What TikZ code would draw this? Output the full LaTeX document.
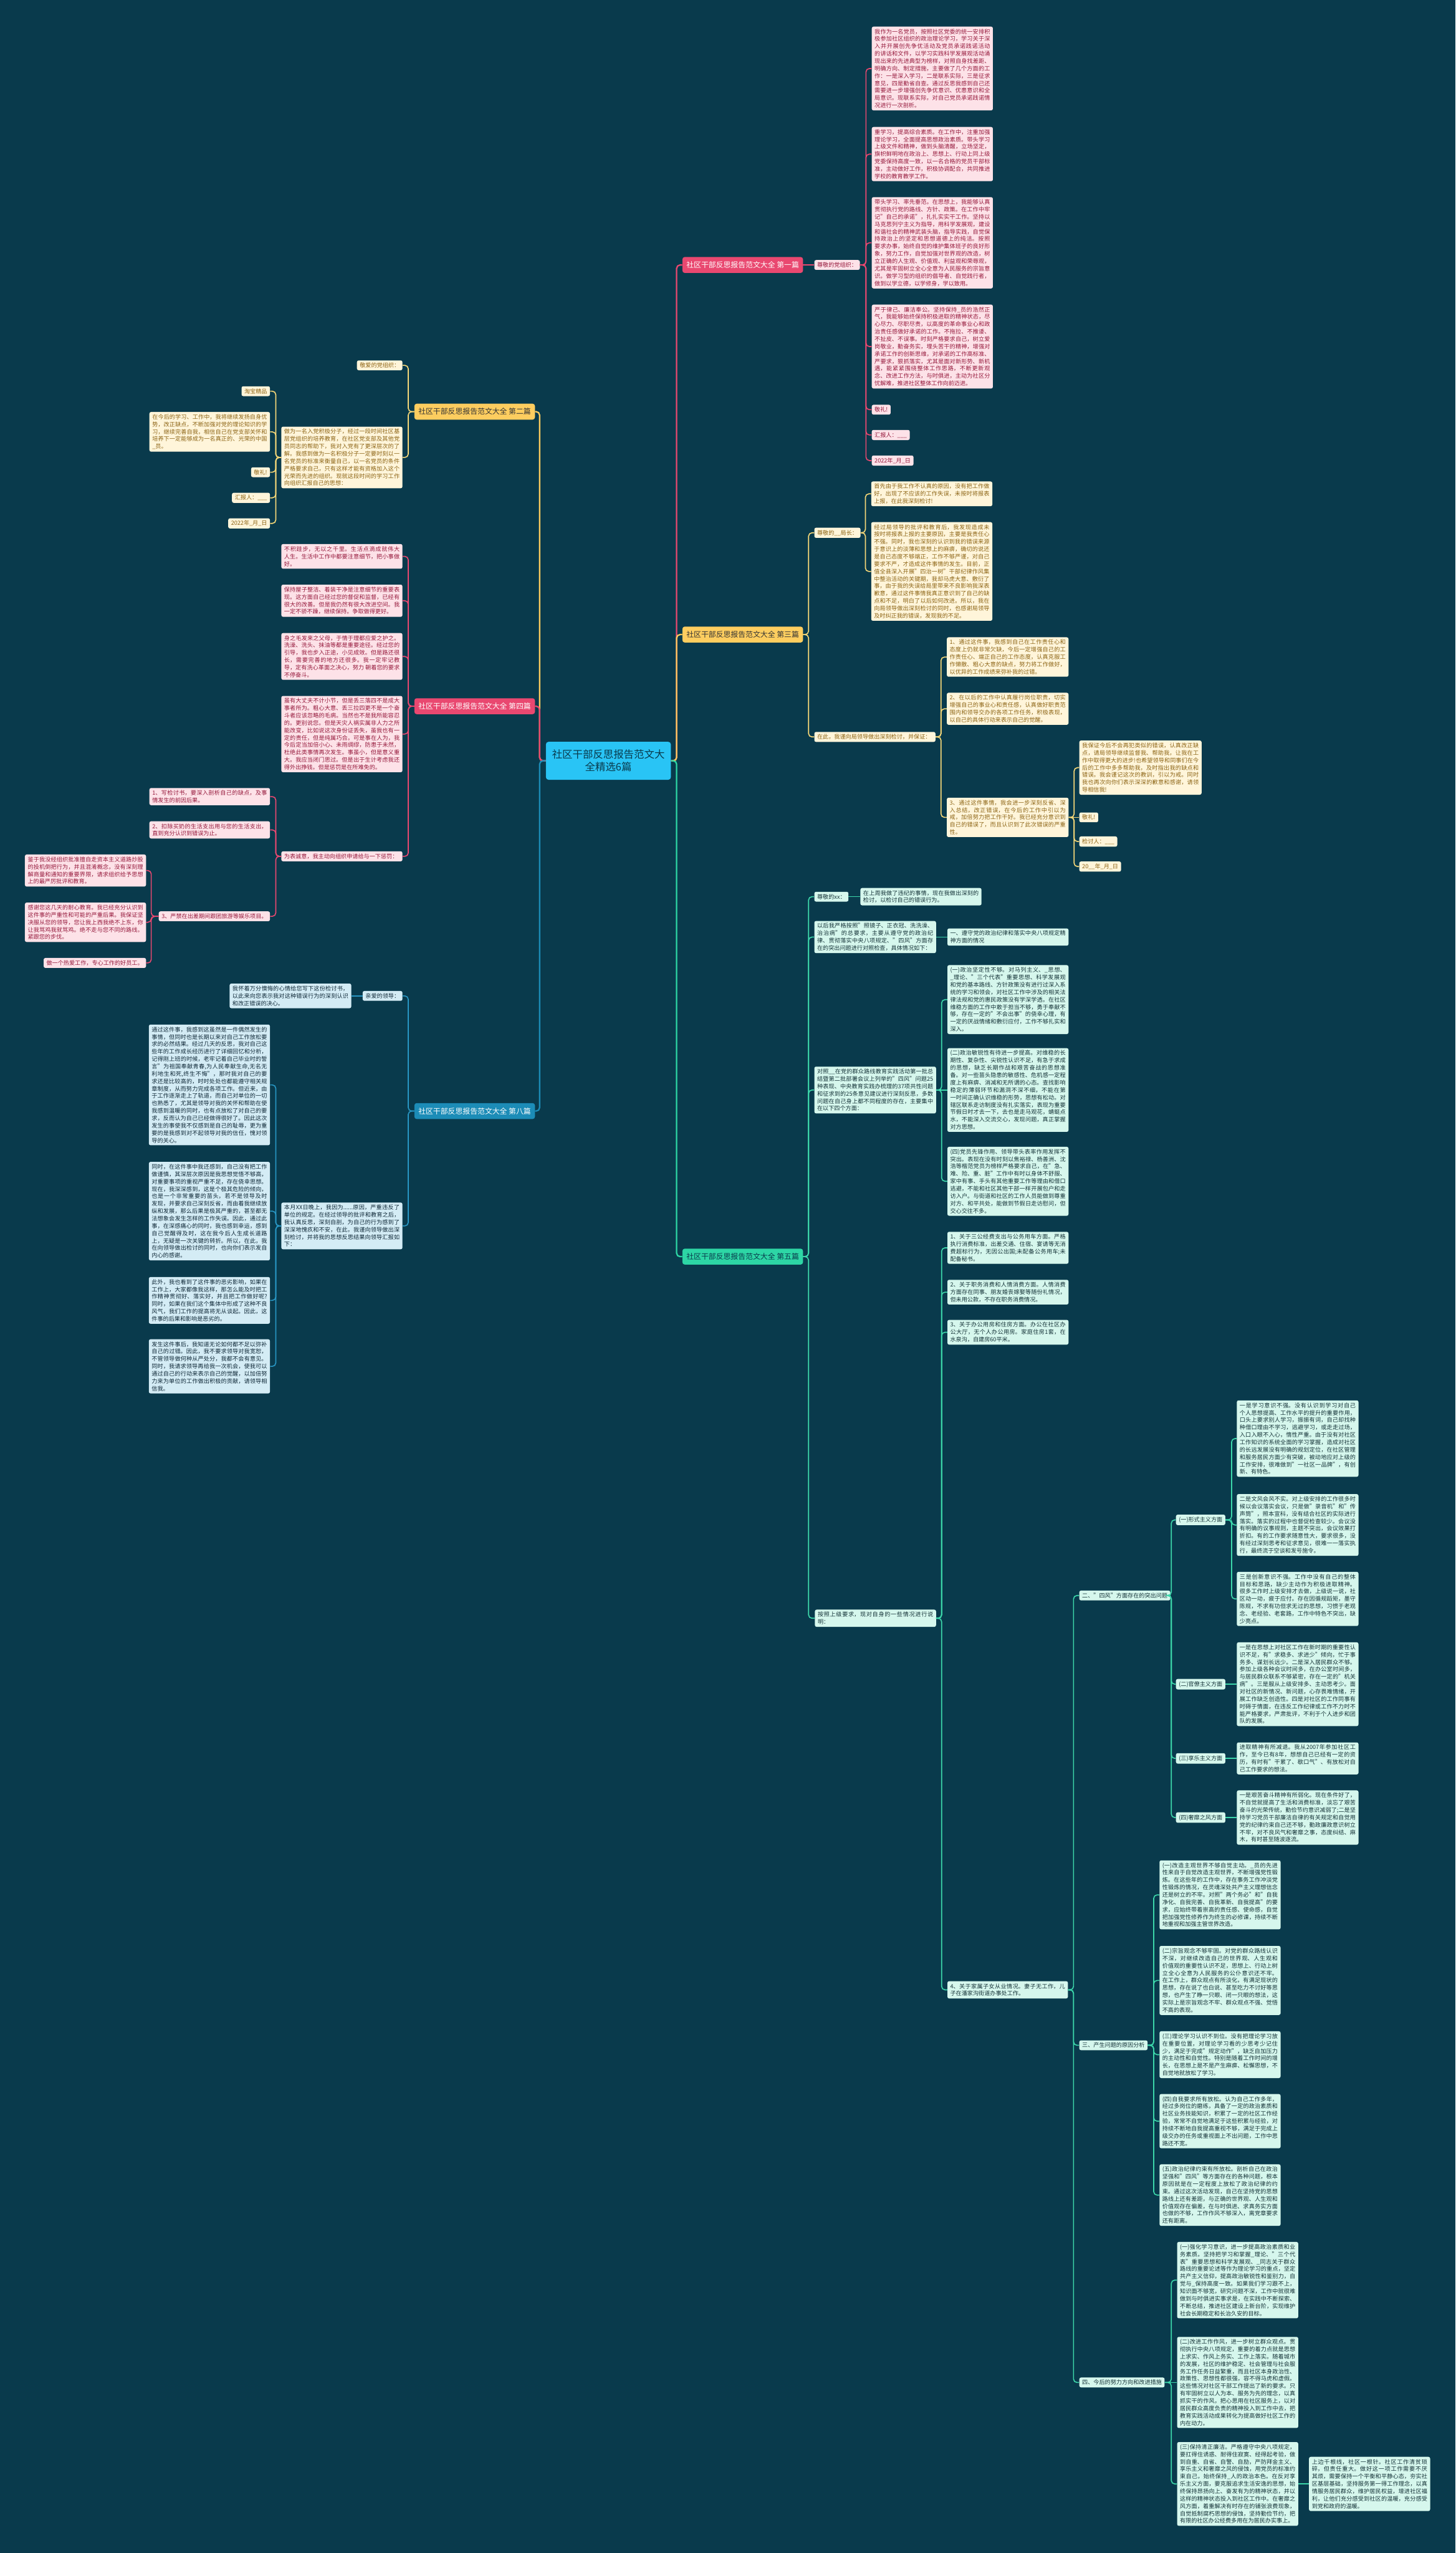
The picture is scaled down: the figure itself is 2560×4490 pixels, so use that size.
\documentclass[tikz,border=0pt]{standalone}
\usepackage{fontspec}
\setmainfont{Noto Sans CJK SC}
\XeTeXlinebreaklocale "zh"
\XeTeXlinebreakskip = 0pt plus 1pt
\definecolor{bg}{RGB}{9,58,76}
\definecolor{pkmain}{RGB}{233,72,112}
\definecolor{pkfill}{RGB}{253,226,232}
\definecolor{pktext}{RGB}{150,25,60}
\definecolor{yemain}{RGB}{253,205,95}
\definecolor{yeline}{RGB}{245,215,120}
\definecolor{yefill}{RGB}{255,245,218}
\definecolor{yetext}{RGB}{140,100,20}
\definecolor{grmain}{RGB}{45,214,165}
\definecolor{grline}{RGB}{60,215,170}
\definecolor{grfill}{RGB}{214,247,237}
\definecolor{grtext}{RGB}{20,50,55}
\definecolor{blmain}{RGB}{28,140,183}
\definecolor{blline}{RGB}{40,150,195}
\definecolor{blfill}{RGB}{212,236,245}
\definecolor{bltext}{RGB}{15,40,55}
\definecolor{cemain}{RGB}{41,196,245}
\newcommand\myfs{\fontsize{10}{13}\selectfont}
\newcommand\linkR[4]{\draw[#1] (#2.east) -- (#2.east -| #3) |- (#4.west);}
\newcommand\linkL[4]{\draw[#1] (#2.west) -- (#2.west -| #3) |- (#4.east);}
\newcommand\linkRD[3]{\draw[#1] (#2.east) -- (#3.west);}
\newcommand\linkLD[3]{\draw[#1] (#2.west) -- (#3.east);}
\begin{document}
\begin{tikzpicture}[x=1pt,y=-1pt,
  box/.style={rounded corners=3pt, inner xsep=5pt, inner ysep=4pt, font=\myfs, align=justify},
  pkb/.style={box, fill=pkfill, text=pktext},
  yeb/.style={box, fill=yefill, text=yetext},
  grb/.style={box, fill=grfill, text=grtext},
  blb/.style={box, fill=blfill, text=bltext},
  tw/.style={text width=#1pt},
  aw/.style={anchor=west},
  ae/.style={anchor=east},
  brbox/.style={rounded corners=4pt, minimum width=212pt, minimum height=28pt, inner sep=3pt, font=\fontsize{13}{15}\selectfont, align=center},
  pkl/.style={draw=pkmain, line width=1.8pt, rounded corners=6pt},
  yel/.style={draw=yeline, line width=1.8pt, rounded corners=6pt},
  grl/.style={draw=grline, line width=1.8pt, rounded corners=6pt},
  bll/.style={draw=blline, line width=1.8pt, rounded corners=6pt},
  trunk/.style={line width=2.5pt, rounded corners=6pt}
]
\fill[bg] (0,0) rectangle (2560,4490);
\useasboundingbox (0,0) rectangle (2560,4490);

% spines
\coordinate (sR) at (1190,0);
\coordinate (sL) at (949,0);
\coordinate (s1) at (1523,0);
\coordinate (s3) at (1422,0);
\coordinate (s3a) at (1522,0);
\coordinate (s3b) at (1655,0);
\coordinate (s3c) at (1889,0);
\coordinate (s5) at (1422,0);
\coordinate (s5b) at (1656,0);
\coordinate (s5d) at (1888,0);
\coordinate (s5e) at (2060,0);
\coordinate (s5f) at (2166,0);
\coordinate (s5g) at (2029,0);
\coordinate (s2) at (718,0);
\coordinate (s2b) at (485,0);
\coordinate (s4c) at (266,0);

% center
\node[rounded corners=5pt, fill=cemain, text=bg, minimum width=220pt, minimum height=67pt, align=center, font=\fontsize{18}{22}\selectfont] (c) at (1070,1338) {社区干部反思报告范文大\\全精选6篇};

% branches
\node[brbox, fill=pkmain, text=white, aw] (b1) at (1200,466) {社区干部反思报告范文大全 第一篇};
\node[brbox, fill=yemain, text=black!80, aw] (b3) at (1200,1116) {社区干部反思报告范文大全 第三篇};
\node[brbox, fill=grmain, text=bg, aw] (b5) at (1200,2210) {社区干部反思报告范文大全 第五篇};
\node[brbox, fill=yemain, text=black!80, ae] (b2) at (941,724) {社区干部反思报告范文大全 第二篇};
\node[brbox, fill=pkmain, text=white, ae] (b4) at (941,1242) {社区干部反思报告范文大全 第四篇};
\node[brbox, fill=blmain, text=white, ae] (b8) at (941,1954) {社区干部反思报告范文大全 第八篇};

\draw[trunk, draw=pkmain] (c.east) -- (c.east -| sR) |- (b1.west);
\draw[trunk, draw=yemain] (c.east) -- (c.east -| sR) |- (b3.west);
\draw[trunk, draw=grmain] (c.east) -- (c.east -| sR) |- (b5.west);
\draw[trunk, draw=yemain] (c.west) -- (c.west -| sL) |- (b2.east);
\draw[trunk, draw=pkmain] (c.west) -- (c.west -| sL) |- (b4.east);
\draw[trunk, draw=blmain] (c.west) -- (c.west -| sL) |- (b8.east);

% ===== 第一篇 =====
\node[pkb, aw] (l1a) at (1432,466) {尊敬的党组织：};
\node[pkb, aw, tw=203] (p1) at (1533,120.5) {我作为一名党员，按照社区党委的统一安排积极参加社区组织的政治理论学习，学习关于深入并开展创先争优活动及党员承诺践诺活动的讲话和文件，以学习实践科学发展观活动涌现出来的先进典型为榜样，对照自身找差距、明确方向、制定措施，主要做了几个方面的工作：一是深入学习，二是联系实际，三是征求意见，四是勤省自查。通过反思我感到自己还需要进一步增强创先争优意识、优患意识和全局意识。现联系实际，对自己党员承诺践诺情况进行一次剖析。};
\node[pkb, aw, tw=203] (p2) at (1533,271) {重学习，提高综合素质。在工作中，注重加强理论学习，全面提高思想政治素质。带头学习上级文件和精神，做到头脑清醒，立场坚定，旗帜鲜明地在政治上、思想上、行动上同上级党委保持高度一致，以一名合格的党员干部标准，主动做好工作，积极协调配合，共同推进学校的教育教学工作。};
\node[pkb, aw, tw=203] (p3) at (1533,427) {带头学习、率先垂范。在思想上，我能够认真贯彻执行党的路线、方针、政策。在工作中牢记"自己的承诺"，扎扎实实干工作。坚持以马克思列宁主义为指导，用科学发展观，建设和谐社会的精神武装头脑，指导实践，自觉保持政治上的坚定和思想道德上的纯洁。按照要求办事，始终自觉的维护集体班子的良好形象，努力工作，自觉加强对世界观的改造，树立正确的人生观、价值观、利益观和荣辱观，尤其是牢固树立全心全意为人民服务的宗旨意识。做学习型的组织的倡导者、自觉践行者，做到以学立德，以学修身，学以致用。};
\node[pkb, aw, tw=203] (p4) at (1533,609.5) {严于律己、廉洁奉公。坚持保持\_员的浩然正气，我能够始终保持积极进取的精神状态，尽心尽力、尽职尽责，以高度的革命事业心和政治责任感做好承诺的工作。不拖拉、不推诿、不扯皮、不误事。时刻严格要求自己，树立爱岗敬业，勤奋务实，埋头苦干的精神，增强对承诺工作的创新思维，对承诺的工作高标准、严要求，狠抓落实，尤其是面对新形势、新机遇，能紧紧围绕整体工作思路，不断更新观念、改进工作方法，与时俱进，主动为社区分忧解难，推进社区整体工作向前迈进。};
\node[pkb, aw] (p5) at (1533,720.5) {敬礼!};
\node[pkb, aw] (p6) at (1533,765) {汇报人：\_\_\_};
\node[pkb, aw] (p7) at (1533,810) {2022年\_月\_日};
\linkRD{pkl}{b1}{l1a}
\foreach \n in {p1,p2,p3,p4,p5,p6,p7} {\linkR{pkl}{l1a}{s1}{\n}}

% ===== 第三篇 =====
\node[yeb, aw] (l3a) at (1432,937) {尊敬的\_\_局长：};
\node[yeb, aw, tw=203] (q1) at (1532,868.5) {首先由于我工作不认真的原因，没有把工作做好，出现了不应该的工作失误，未按时将报表上报，在此我深刻检讨!};
\node[yeb, aw, tw=203] (q2) at (1532,1005) {经过局领导的批评和教育后，我发现造成未按时将报表上报的主要原因，主要是我责任心不强。同时，我也深刻的认识到我的错误来源于意识上的淡薄和思想上的麻痹，确切的说还是自己态度不够端正，工作不够严谨，对自己要求不严，才造成这件事情的发生。目前，正值全县深入开展"四治一树"干部纪律作风集中整治活动的关键期，我却马虎大意、敷衍了事，由于我的失误给局里带来不良影响我深表歉意，通过这件事情我真正意识到了自己的缺点和不足，明白了以后如何改进。所以，我在向局领导做出深刻检讨的同时，也感谢局领导及时纠正我的错误，发现我的不足。};
\node[yeb, aw, tw=203] (l3b) at (1432,1296) {在此，我谨向局领导做出深刻检讨，并保证：};
\node[yeb, aw, tw=204] (r1) at (1665,1155.5) {1、通过这件事，我感到自己在工作责任心和态度上仍就非常欠缺，今后一定增强自己的工作责任心、端正自己的工作态度，认真克服工作懒散、粗心大意的缺点，努力将工作做好，以优异的工作成绩来弥补我的过错。};
\node[yeb, aw, tw=204] (r2) at (1665,1246.5) {2、在以后的工作中认真履行岗位职责，切实增强自己的事业心和责任感，认真做好职责范围内和领导交办的各项工作任务，积极表现，以自己的具体行动来表示自己的觉醒。};
\node[yeb, aw, tw=204] (r3) at (1665,1437.5) {3、通过这件事情，我会进一步深刻反省、深入总结，改正错误，在今后的工作中引以为戒，加倍努力把工作干好。我已经充分意识到自己的错误了，而且认识到了此次错误的严重性。};
\node[yeb, aw, tw=205] (t1) at (1898,1350) {我保证今后不会再犯类似的错误，认真改正缺点，请局领导继续监督我、帮助我，让我在工作中取得更大的进步!也希望领导和同事们在今后的工作中多多帮助我，及时指出我的缺点和错误。我会谨记这次的教训，引以为戒。同时我也再次向你们表示深深的歉意和感谢，请领导相信我!};
\node[yeb, aw] (t2) at (1898,1437.5) {敬礼!};
\node[yeb, aw] (t3) at (1898,1480) {检讨人：\_\_\_};
\node[yeb, aw] (t4) at (1898,1524) {20\_\_年\_月\_日};
\linkR{yel}{b3}{s3}{l3a}
\linkR{yel}{b3}{s3}{l3b}
\linkR{yel}{l3a}{s3a}{q1}
\linkR{yel}{l3a}{s3a}{q2}
\foreach \n in {r1,r2,r3} {\linkR{yel}{l3b}{s3b}{\n}}
\linkR{yel}{r3}{s3c}{t1}
\linkRD{yel}{r3}{t2}
\linkR{yel}{r3}{s3c}{t3}
\linkR{yel}{r3}{s3c}{t4}

% ===== 第五篇 =====
\node[grb, aw] (g1) at (1432,1577) {尊敬的xx：};
\node[grb, aw, tw=203] (g1a) at (1513,1577) {在上周我做了违纪的事情，现在我做出深刻的检讨，以检讨自己的错误行为。};
\node[grb, aw, tw=204] (g2) at (1432,1648) {以后我严格按照"照镜子、正衣冠、洗洗澡、治治病"的总要求，主要从遵守党的政治纪律、贯彻落实中央八项规定、"四风"方面存在的突出问题进行对照检查，具体情况如下：};
\node[grb, aw, tw=203] (g2a) at (1666,1648) {一、遵守党的政治纪律和落实中央八项规定精神方面的情况};
\node[grb, aw, tw=204] (g3) at (1432,1917) {对照\_\_在党的群众路线教育实践活动第一批总结暨第二批部署会议上列举的"四风"问题25种表现、中央教育实践办梳理的37项共性问题和征求到的25条意见建议进行深刻反思，多数问题在自己身上都不同程度的存在，主要集中在以下四个方面：};
\node[grb, aw, tw=203] (g3a) at (1666,1758) {(一)政治坚定性不够。对马列主义、\_思想、\_理论、"三个代表"重要思想、科学发展观和党的基本路线、方针政策没有进行过深入系统的学习和领会，对社区工作中涉及的相关法律法规和党的惠民政策没有学深学透。在社区维稳方面的工作中敢于担当不够，勇于奉献不够，存在一定的"不会出事"的侥幸心理，有一定的厌战情绪和敷衍应付，工作不够扎实和深入。};
\node[grb, aw, tw=203] (g3b) at (1666,1917) {(二)政治敏锐性有待进一步提高。对维稳的长期性、复杂性、尖锐性认识不足，有急于求成的思想，缺乏长期作战和艰苦奋战的思想准备。对一些苗头隐患的敏感性、危机感一定程度上有麻痹、消减和无所谓的心态。查找影响稳定的薄弱环节和漏洞不深不细，不能在第一时间正确认识维稳的形势，思想有松动。对辖区联系走访制度没有扎实落实，表现为重要节假日时才去一下，去也是走马观花，蜻蜓点水，不能深入交流交心，发现问题，真正掌握对方思想。};
\node[grb, aw, tw=203] (g3c) at (1666,2077.5) {(四)党员先锋作用、领导带头表率作用发挥不突出。表现在没有时刻以焦裕禄、杨善洲、沈浩等楷范党员为榜样严格要求自己，在"急、难、险、重、脏"工作中有时以身体不舒服、家中有事、手头有其他重要工作等理由和借口逃避，不能和社区其他干部一样开展包户和走访入户。与街道和社区的工作人员能做到尊重对方、和平共处，能做到节假日走访慰问，但交心交往不多。};
\node[grb, aw, tw=203] (g4) at (1433,2846) {按照上级要求，现对自身的一些情况进行说明：};
\node[grb, aw, tw=203] (h1) at (1666,2194.5) {1、关于三公经费支出与公务用车方面。严格执行消费标准，出差交通、住宿、宴请等无消费超标行为，无因公出国;未配备公务用车;未配备秘书。};
\node[grb, aw, tw=203] (h2) at (1666,2272.5) {2、关于职务消费和人情消费方面。人情消费方面存在同事、朋友婚丧嫁娶等随份礼情况，但未用公款，不存在职务消费情况。};
\node[grb, aw, tw=203] (h3) at (1666,2343) {3、关于办公用房和住房方面。办公在社区办公大厅，无个人办公用房。家庭住房1套，在水泉沟，自建房60平米。};
\node[grb, aw, tw=202] (h4) at (1666,3499.5) {4、关于家属子女从业情况。妻子无工作，儿子在潘家沟街道办事处工作。};
\node[grb, aw] (k2) at (1898,2806) {二、"四风"方面存在的突出问题};
\node[grb, aw] (m1) at (2068,2673) {(一)形式主义方面};
\node[grb, aw, tw=204] (n1) at (2175,2530) {一是学习意识不强。没有认识到学习对自己个人思想提高、工作水平的提升的重要作用，口头上要求别人学习，振振有词，自己却找种种借口理由不学习，逃避学习，或走走过场，入口入眼不入心，惰性严重。由于没有对社区工作知识的系统全面的学习掌握，造成对社区的长远发展没有明确的规划定位，在社区管理和服务居民方面少有突破，被动地应对上级的工作安排，很难做到"一社区一品牌"，有创新、有特色。};
\node[grb, aw, tw=204] (n2) at (2175,2682) {二是文风会风不实。对上级安排的工作很多时候以会议落实会议，只是做"录音机"和"传声筒"，照本宣科，没有结合社区的实际进行落实。落实的过程中也督促检查较少。会议没有明确的议事规则，主题不突出，会议效果打折扣。有的工作要求随意性大，要求很多，没有经过深刻思考和征求意见，很难一一落实执行，最终流于空谈和发号施令。};
\node[grb, aw, tw=204] (n3) at (2175,2812) {三是创新意识不强。工作中没有自己的整体目标和思路，缺少主动作为积极进取精神。很多工作时上级安排才去做，上级说一说，社区动一动，疲于应付。存在因循规蹈矩，墨守陈规，不求有功但求无过的思想，习惯于老观念、老经验、老套路，工作中特色不突出，缺少亮点。};
\node[grb, aw] (m2) at (2068,2962) {(二)官僚主义方面};
\node[grb, aw, tw=204] (n4) at (2175,2962) {一是在思想上对社区工作在新时期的重要性认识不足，有"求稳多、求进少"倾向，忙于事务多、谋划长远少。二是深入居民群众不够。参加上级各种会议时间多，在办公室时间多，与居民群众联系不够紧密，存在一定的"机关病"。三是服从上级安排多、主动思考少。面对社区的新情况、新问题，心存畏难情绪，开展工作缺乏创造性。四是对社区的工作同事有时碍于情面，在违反工作纪律或工作不力时不能严格要求，严肃批评，不利于个人进步和团队的发展。};
\node[grb, aw] (m3) at (2068,3092.5) {(三)享乐主义方面};
\node[grb, aw, tw=204] (n5) at (2175,3092.5) {进取精神有所减退。我从2007年参加社区工作，至今已有8年，想想自己已经有一定的资历，有时有"干累了、歇口气"、有放松对自己工作要求的想法。};
\node[grb, aw] (m4) at (2068,3196.5) {(四)奢靡之风方面};
\node[grb, aw, tw=204] (n6) at (2175,3196.5) {一是艰苦奋斗精神有所弱化。现在条件好了，不自觉就提高了生活和消费标准，淡忘了艰苦奋斗的光荣传统，勤俭节约意识减弱了;二是坚持学习党员干部廉洁自律的有关规定和自觉用党的纪律约束自己还不够，勤政廉政意识树立不牢，对不良风气和奢靡之事，态度纠结、麻木，有时甚至随波逐流。};
\node[grb, aw] (k3) at (1898,3597) {三、产生问题的原因分析};
\node[grb, aw, tw=203] (o1) at (2039,3332.5) {(一)改造主观世界不够自觉主动。\_员的先进性来自于自觉改造主观世界，不断增强党性锻炼。在这些年的工作中，存在事务工作冲淡党性锻炼的情况，在灵魂深处共产主义理想信念还是树立的不牢。对照"两个务必"和"自我净化、自我完善、自我革新、自我提高"的要求，应始终带着崇高的责任感、使命感，自觉把加强党性修养作为终生的必修课，持续不断地重视和加强主管世界改造。};
\node[grb, aw, tw=203] (o2) at (2039,3483) {(二)宗旨观念不够牢固。对党的群众路线认识不深，对继续改造自己的世界观、人生观和价值观的重要性认识不足，思想上、行动上树立全心全意为人民服务的公仆意识还不牢。在工作上，群众观点有所淡化，有满足现状的思想，存在说了也白说、甚至吃力不讨好等思想，也产生了睁一只眼、闭一只眼的想法，这实际上是宗旨观念不牢、群众观点不强、觉悟不高的表现。};
\node[grb, aw, tw=203] (o3) at (2039,3613.5) {(三)理论学习认识不到位。没有把理论学习放在重要位置，对理论学习看的少思考少记住少，满足于完成"规定动作"，缺乏自加压力的主动性和自觉性。特别是随着工作时间的增长，在思想上是不是产生麻痹、松懈思想，不自觉地就放松了学习。};
\node[grb, aw, tw=203] (o4) at (2039,3730.5) {(四)自我要求所有放松。认为自己工作多年，经过多岗位的磨练，具备了一定的政治素质和社区业务技能知识，积累了一定的社区工作经验，常常不自觉地满足于这些积累与经验，对持续不断地自我提高重视不够，满足于完成上级交办的任务或重视面上不出问题，工作中思路还不宽。};
\node[grb, aw, tw=203] (o5) at (2039,3860.5) {(五)政治纪律约束有所放松。剖析自己在政治坚强和"四风"等方面存在的各种问题，根本原因就是在一定程度上放松了政治纪律的约束。通过这次活动发现，自己在坚持党的思想路线上还有差距，与正确的世界观、人生观和价值观存在偏差，在与时俱进、求真务实方面也做的不够，工作作风不够深入，离党章要求还有距离。};
\node[grb, aw] (k4) at (1898,4190) {四、今后的努力方向和改进措施};
\node[grb, aw, tw=203] (u1) at (2070,4010) {(一)强化学习意识，进一步提高政治素质和业务素质。坚持把学习和掌握\_理论、"三个代表"重要思想和科学发展观、\_同志关于群众路线的重要论述等作为理论学习的重点，坚定共产主义信仰，提高政治敏锐性和鉴别力，自觉与\_保持高度一致。如果我们学习跟不上，知识面不够宽，研究问题不深，工作中就很难做到与时俱进实事求是，在实践中不断探索、不断总结，推进社区建设上新台阶，实现维护社会长期稳定和长治久安的目标。};
\node[grb, aw, tw=203] (u2) at (2070,4190) {(二)改进工作作风，进一步树立群众观点。贯彻执行中央八项规定，重要的着力点就是思想上求实、作风上务实、工作上落实。随着城市的发展，社区的维护稳定、社会管理与社会服务工作任务日益繁重，而且社区本身政治性、政策性、思想性都很强，容不得马虎和虚假。这些情况对社区干部工作提出了新的要求。只有牢固树立以人为本、服务为先的理念，以真抓实干的作风，把心思用在社区服务上，以对居民群众高度负责的精神投入到工作中去，把教育实践活动成果转化为提高做好社区工作的内在动力。};
\node[grb, aw, tw=203] (u3) at (2070,4368.5) {(三)保持清正廉洁。严格遵守中央八项规定，要扛得住诱惑、耐得住寂寞、经得起考验，做到自重、自省、自警、自励，严防拜金主义、享乐主义和奢靡之风的侵蚀，用党员的标准约束自己，始终保持\_人的政治本色。在反对享乐主义方面，要克服追求生活安逸的思想，始终保持昂扬向上、奋发有为的精神状态，并以这样的精神状态投入到社区工作中。在奢靡之风方面，着重解决有时存在的铺张浪费现象，自觉抵制腐朽思想的侵蚀，坚持勤俭节约，把有限的社区办公经费多用在为居民办实事上。};
\node[grb, aw, tw=203] (u3a) at (2302,4368.5) {上边千根线，社区一根针。社区工作清贫琐碎，但责任重大。做好这一项工作需要不厌其烦，需要保持一个平衡和平静心态，夯实社区基层基础，坚持服务第一得工作理念，以真情服务居民群众，维护居民权益，增进社区福利，让他们充分感受到社区的温暖，充分感受到党和政府的温暖。};

\foreach \n in {g1,g2,g3,g4} {\linkR{grl}{b5}{s5}{\n}}
\linkRD{grl}{g1}{g1a}
\linkRD{grl}{g2}{g2a}
\linkR{grl}{g3}{s5b}{g3a}
\linkRD{grl}{g3}{g3b}
\linkR{grl}{g3}{s5b}{g3c}
\foreach \n in {h1,h2,h3,h4} {\linkR{grl}{g4}{s5b}{\n}}
\foreach \n in {k2,k3,k4} {\linkR{grl}{h4}{s5d}{\n}}
\foreach \n in {m1,m2,m3,m4} {\linkR{grl}{k2}{s5e}{\n}}
\foreach \n in {n1,n2,n3} {\linkR{grl}{m1}{s5f}{\n}}
\linkRD{grl}{m2}{n4}
\linkRD{grl}{m3}{n5}
\linkRD{grl}{m4}{n6}
\foreach \n in {o1,o2,o3,o4,o5} {\linkR{grl}{k3}{s5g}{\n}}
\linkR{grl}{k4}{s5e}{u1}
\linkRD{grl}{k4}{u2}
\linkR{grl}{k4}{s5e}{u3}
\linkRD{grl}{u3}{u3a}

% ===== 第二篇 =====
\node[yeb, ae] (y1) at (708,642.5) {敬爱的党组织：};
\node[yeb, ae, tw=203] (y2) at (708,804.5) {做为一名入党积极分子，经过一段时间社区基层党组织的培养教育，在社区党支部及其他党员同志的帮助下，我对入党有了更深层次的了解。我感到做为一名积极分子一定要时刻以一名党员的标准来衡量自己，以一名党员的条件严格要求自己，只有这样才能有资格加入这个光荣而先进的组织。现就这段时间的学习工作向组织汇报自己的思想：};
\node[yeb, ae] (z1) at (475,688) {淘宝精品};
\node[yeb, ae, tw=202] (z2) at (475,759.5) {在今后的学习、工作中，我将继续发扬自身优势，改正缺点，不断加强对党的理论知识的学习，继续完善自我，相信自己在党支部关怀和培养下一定能够成为一名真正的、光荣的中国\_员。};
\node[yeb, ae] (z3) at (475,830.5) {敬礼!};
\node[yeb, ae] (z4) at (475,875.5) {汇报人：\_\_\_};
\node[yeb, ae] (z5) at (475,920.5) {2022年\_月\_日};
\linkL{yel}{b2}{s2}{y1}
\linkL{yel}{b2}{s2}{y2}
\foreach \n in {z1,z2,z3,z4,z5} {\linkL{yel}{y2}{s2b}{\n}}

% ===== 第四篇 =====
\node[pkb, ae, tw=203] (v1) at (708,978.5) {不积跬步，无以之千里。生活点滴成就伟大人生。生活中工作中都要注意细节，把小事做好。};
\node[pkb, ae, tw=203] (v2) at (708,1056.5) {保持屋子整洁、着装干净是注意细节的重要表现。这方面自己经过您的督促和监督，已经有很大的改善。但是我仍然有很大改进空间。我一定不骄不躁，继续保持。争取做得更好。};
\node[pkb, ae, tw=203] (v3) at (708,1154.5) {身之毛发来之父母，于情于理都应爱之护之。洗澡、洗头、抹油等都是重要途径。经过您的引导，我也步入正途，小见成效。但是路还很长，需要完善的地方还很多。我一定牢记教导，定有洗心革面之决心，努力 朝着您的要求不停奋斗。};
\node[pkb, ae, tw=203] (v4) at (708,1291) {虽有大丈夫不计小节，但是丢三落四不是成大事者所为。粗心大意、丢三拉四更不是一个奋斗者应该忽略的毛病。当然也不是我所能容忍的。更别说您。但是天灾人祸实属非人力之所能改变，比如说这次身份证丢失，虽我也有一定的责任，但是纯属巧合。可是事在人为，我今后定当加倍小心、未雨绸缪，防患于未然，杜绝此类事情再次发生。事虽小，但是意义重大。我应当闭门思过。但是出于生计考虑我还得外出挣钱。但是惩罚是在所难免的。};
\node[pkb, ae, tw=203] (v5) at (708,1506) {为表诚意，我主动向组织申请给与一下惩罚：};
\node[pkb, ae, tw=202] (w1) at (475,1401) {1、写检讨书，要深入剖析自己的缺点，及事情发生的前因后果。};
\node[pkb, ae, tw=202] (w2) at (475,1459.5) {2、扣除买奶的生活支出用与您的生活支出，直到充分认识到错误为止。};
\node[pkb, ae] (w3) at (475,1611.5) {3、严禁在出差期间跟团旅游等娱乐项目。};
\node[pkb, ae, tw=203] (x1) at (257,1531) {鉴于我没经组织批准擅自走资本主义道路炒股的投机倒把行为，并且混淆概念，没有深刻理解商量和通知的重要界限，请求组织给予思想上的最严厉批评和教育。};
\node[pkb, ae, tw=203] (x2) at (257,1622) {感谢您这几天的耐心教育。我已经充分认识到这件事的严重性和可能的严重后果。我保证坚决服从您的领导，您让我上西我绝不上东，你让我骂鸡我就骂鸡。绝不走与您不同的路线。紧跟您的步伐。};
\node[pkb, ae] (x3) at (257,1693.5) {做一个热爱工作，专心工作的好员工。};
\foreach \n in {v1,v2,v3,v4,v5} {\linkL{pkl}{b4}{s2}{\n}}
\foreach \n in {w1,w2,w3} {\linkL{pkl}{v5}{s2b}{\n}}
\foreach \n in {x1,x2,x3} {\linkL{pkl}{w3}{s4c}{\n}}

% ===== 第八篇 =====
\node[blb, ae] (e1) at (708,1751.5) {亲爱的领导：};
\node[blb, ae, tw=204] (e1a) at (618,1751.5) {我怀着万分懊悔的心情给您写下这份检讨书，以此来向您表示我对这种错误行为的深刻认识和改正错误的决心。};
\node[blb, ae, tw=203] (e2) at (708,2156) {本月XX日晚上，我因为......原因，严重违反了单位的规定。在经过领导的批评和教育之后，我认真反思，深刻自剖，为自己的行为感到了深深地愧疚和不安，在此，我谨向领导做出深刻检讨，并将我的思想反思结果向领导汇报如下：};
\node[blb, ae, tw=203] (f1) at (475,1908) {通过这件事，我感到这虽然是一件偶然发生的事情，但同时也是长期以来对自己工作放松要求的必然结果。经过几天的反思，我对自己这些年的工作成长经历进行了详细回忆和分析，记得刚上班的时候，老牢记着自己毕业时的誓言"为祖国奉献青春,为人民奉献生命,无名无利地生和死,终生不悔"，那时我对自己的要求还是比较高的，时时处处也都能遵守相关规章制度，从而努力完成各项工作。但近来，由于工作逐渐走上了轨道，而自己对单位的一切也熟悉了，尤其是领导对我的关怀和帮助在使我感到温暖的同时，也有点放松了对自己的要求，反而认为自己已经做得很好了。因此这次发生的事使我不仅感到是自己的耻辱，更为重要的是我感到对不起领导对我的信任，愧对领导的关心。};
\node[blb, ae, tw=203] (f2) at (475,2130) {同时，在这件事中我还感到，自己没有把工作做谨慎，其深层次原因是我思想觉悟不够高，对重要事项的重视严重不足，存在侥幸思想。现在，我深深感到，这是个极其危险的倾向，也是一个非常重要的苗头，若不是领导及时发现，并要求自己深刻反省，而由着我继续放纵和发展，那么后果是极其严重的，甚至都无法想象会发生怎样的工作失误。因此，通过此事，在深感痛心的同时，我也感到幸运，感到自己觉醒得及时，这在我今后人生成长道路上，无疑是一次关键的转折。所以，在此，我在向领导做出检讨的同时，也向你们表示发自内心的感谢。};
\node[blb, ae, tw=203] (f3) at (475,2287) {此外，我也看到了这件事的恶劣影响，如果在工作上，大家都像我这样，那怎么能及时把工作精神贯彻好、落实好，并且把工作做好呢?同时，如果在我们这个集体中形成了这种不良风气，我们工作的提高将无从谈起。因此，这件事的后果和影响是恶劣的。};
\node[blb, ae, tw=203] (f4) at (475,2403) {发生这件事后，我知道无论如何都不足以弥补自己的过错。因此，我不要求领导对我宽恕，不管领导做何种从严处分，我都不会有意见。同时，我请求领导再给我一次机会，使我可以通过自己的行动来表示自己的觉醒，以加倍努力来为单位的工作做出积极的贡献，请领导相信我。};
\linkL{bll}{b8}{s2}{e1}
\linkL{bll}{b8}{s2}{e2}
\linkLD{bll}{e1}{e1a}
\foreach \n in {f1,f2,f3,f4} {\linkL{bll}{e2}{s2b}{\n}}
\end{tikzpicture}
\end{document}
